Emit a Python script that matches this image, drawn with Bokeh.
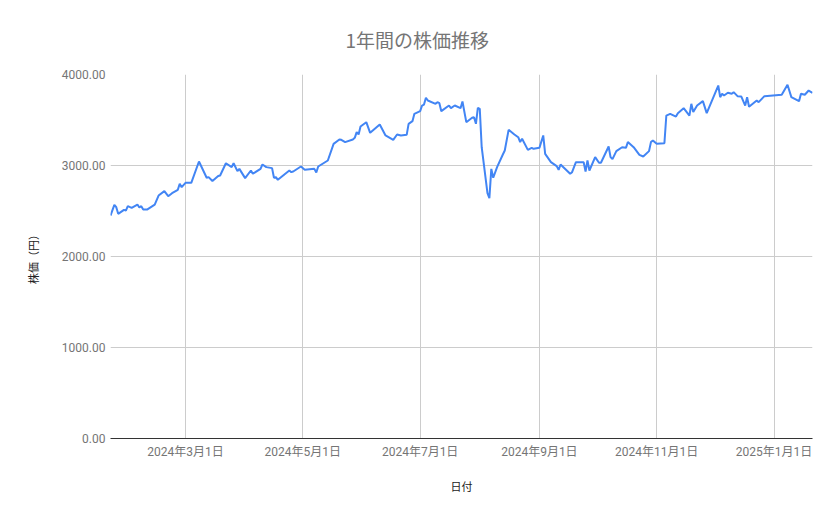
import pandas as pd
from bokeh.plotting import figure
from bokeh.models import (FixedTicker, DatetimeTickFormatter, NumeralTickFormatter,
                          Range1d)
from bokeh.embed import file_html
from bokeh.resources import INLINE

title_text = "1年間の株価推移"
x_title = "日付"
y_title = "株価（円）"

dates = [
    "2024-01-22", "2024-01-24", "2024-01-25", "2024-01-26", "2024-01-29", "2024-01-30",
    "2024-01-31", "2024-02-02", "2024-02-05", "2024-02-06", "2024-02-07", "2024-02-08",
    "2024-02-10", "2024-02-14", "2024-02-16", "2024-02-19", "2024-02-21", "2024-02-23",
    "2024-02-26", "2024-02-27", "2024-02-28", "2024-03-01", "2024-03-04", "2024-03-08",
    "2024-03-12", "2024-03-13", "2024-03-15", "2024-03-18", "2024-03-19", "2024-03-22",
    "2024-03-25", "2024-03-26", "2024-03-28", "2024-03-29", "2024-04-01", "2024-04-04",
    "2024-04-05", "2024-04-09", "2024-04-10", "2024-04-12", "2024-04-15", "2024-04-16",
    "2024-04-17", "2024-04-18", "2024-04-24", "2024-04-25", "2024-04-26", "2024-04-30",
    "2024-05-02", "2024-05-07", "2024-05-08", "2024-05-09", "2024-05-14", "2024-05-17",
    "2024-05-20", "2024-05-21", "2024-05-23", "2024-05-27", "2024-05-28", "2024-05-29",
    "2024-05-30", "2024-05-31", "2024-06-03", "2024-06-05", "2024-06-10", "2024-06-13",
    "2024-06-17", "2024-06-19", "2024-06-21", "2024-06-24", "2024-06-25", "2024-06-27",
    "2024-06-28", "2024-07-01", "2024-07-02", "2024-07-03", "2024-07-04", "2024-07-05",
    "2024-07-09", "2024-07-10", "2024-07-11", "2024-07-12", "2024-07-16", "2024-07-17",
    "2024-07-19", "2024-07-22", "2024-07-23", "2024-07-25", "2024-07-28", "2024-07-29",
    "2024-07-30", "2024-07-31", "2024-08-01", "2024-08-02", "2024-08-05", "2024-08-06",
    "2024-08-07", "2024-08-08", "2024-08-10", "2024-08-13", "2024-08-14", "2024-08-16",
    "2024-08-19", "2024-08-21", "2024-08-22", "2024-08-23", "2024-08-26", "2024-08-28",
    "2024-08-29", "2024-09-01", "2024-09-03", "2024-09-04", "2024-09-07", "2024-09-10",
    "2024-09-11", "2024-09-12", "2024-09-17", "2024-09-18", "2024-09-20", "2024-09-24",
    "2024-09-25", "2024-09-26", "2024-09-27", "2024-09-30", "2024-10-02", "2024-10-03",
    "2024-10-07", "2024-10-08", "2024-10-09", "2024-10-11", "2024-10-14", "2024-10-16",
    "2024-10-17", "2024-10-20", "2024-10-23", "2024-10-25", "2024-10-28", "2024-10-29",
    "2024-10-30", "2024-11-01", "2024-11-05", "2024-11-06", "2024-11-08", "2024-11-11",
    "2024-11-12", "2024-11-15", "2024-11-18", "2024-11-19", "2024-11-20", "2024-11-22",
    "2024-11-25", "2024-11-27", "2024-12-03", "2024-12-04", "2024-12-05", "2024-12-06",
    "2024-12-08", "2024-12-10", "2024-12-11", "2024-12-13", "2024-12-15", "2024-12-17",
    "2024-12-18", "2024-12-19", "2024-12-23", "2024-12-24", "2024-12-27", "2025-01-05",
    "2025-01-08", "2025-01-10", "2025-01-14", "2025-01-15", "2025-01-17", "2025-01-19",
    "2025-01-21",
]
prices = [
    2450, 2568, 2542, 2469, 2513, 2505,
    2553, 2535, 2571, 2538, 2553, 2516,
    2516, 2571, 2670, 2718, 2663, 2696,
    2733, 2799, 2762, 2810, 2810, 3044,
    2865, 2872, 2829, 2884, 2890, 3025,
    2982, 3025, 2938, 2963, 2861, 2945,
    2909, 2963, 3011, 2982, 2971, 2865,
    2872, 2843, 2945, 2927, 2934, 2989,
    2952, 2963, 2923, 2989, 3055, 3238,
    3286, 3282, 3257, 3286, 3304, 3366,
    3341, 3429, 3476, 3359, 3451, 3330,
    3282, 3341, 3330, 3337, 3458, 3487,
    3568, 3597, 3659, 3670, 3744, 3714,
    3678, 3696, 3685, 3597, 3659, 3630,
    3659, 3630, 3703, 3476, 3524, 3531,
    3458, 3634, 3623, 3201, 2696, 2641,
    2963, 2865, 2982, 3121, 3165, 3392,
    3341, 3311, 3257, 3293, 3172, 3194,
    3183, 3194, 3330, 3128, 3037, 2993,
    2952, 3011, 2909, 2927, 3037, 3037,
    2934, 3055, 2945, 3092, 3030, 3030,
    3209, 3092, 3070, 3158, 3201, 3194,
    3257, 3201, 3117, 3099, 3158, 3257,
    3275, 3238, 3245, 3549, 3568, 3538,
    3575, 3630, 3549, 3678, 3589, 3659,
    3707, 3575, 3879, 3751, 3788, 3769,
    3799, 3788, 3806, 3762, 3758, 3659,
    3751, 3645, 3714, 3696, 3762, 3777,
    3887, 3751, 3707, 3788, 3777, 3824,
    3799,
]
x_tick_dates = ["2024-03-01", "2024-05-01", "2024-07-01", "2024-09-01", "2024-11-01", "2025-01-01"]
y_ticks = [0, 1000, 2000, 3000, 4000]

x = pd.to_datetime(dates)
tick_ms = [int(t.value // 10**6) for t in pd.to_datetime(x_tick_dates)]

FONT = "Roboto, 'Noto Sans CJK JP'"
JP = "'Noto Sans CJK JP'"

p = figure(width=823, height=503, x_axis_type="datetime",
           output_backend="svg", toolbar_location=None,
           x_range=Range1d(x[0], x[-1]), y_range=Range1d(0, 4000),
           min_border_left=110, min_border_right=11,
           min_border_top=74, min_border_bottom=65)
p.outline_line_color = None
p.background_fill_color = "white"
p.border_fill_color = "white"

p.line(x, prices, line_color="#4285F4", line_width=2)

# title: Google style, roughly centred over the whole chart
p.title.text = title_text
p.title.align = "left"
p.title.offset = 235
p.title.text_font = JP
p.title.text_font_size = "19px"
p.title.text_font_style = "normal"
p.title.text_color = "#757575"
p.title.standoff = 44

# x axis
p.xaxis.ticker = FixedTicker(ticks=tick_ms)
fmt = "%Y年%-m月%-d日"
p.xaxis.formatter = DatetimeTickFormatter(days=fmt, months=fmt, years=fmt)
p.xaxis.axis_line_color = "#333333"
p.xaxis.major_label_standoff = 6
p.xaxis.axis_label = x_title
p.xaxis.axis_label_standoff = 16

# y axis
p.yaxis.ticker = FixedTicker(ticks=y_ticks)
p.yaxis.formatter = NumeralTickFormatter(format="0.00")
p.yaxis.axis_line_color = None
p.yaxis.major_label_standoff = 5
p.yaxis.axis_label = y_title
p.yaxis.axis_label_standoff = 18

for ax in p.axis:
    ax.major_tick_line_color = None
    ax.minor_tick_line_color = None
    ax.major_tick_out = 0
    ax.major_tick_in = 0
    ax.major_label_text_font = FONT
    ax.major_label_text_font_size = "12px"
    ax.major_label_text_color = "#757575"
    ax.axis_label_text_font = JP
    ax.axis_label_text_font_size = "11px"
    ax.axis_label_text_font_style = "normal"
    ax.axis_label_text_color = "#222222"

p.xgrid.grid_line_color = "#cccccc"
p.ygrid.grid_line_color = "#cccccc"

open("out.html", "w").write(file_html(p, INLINE))
